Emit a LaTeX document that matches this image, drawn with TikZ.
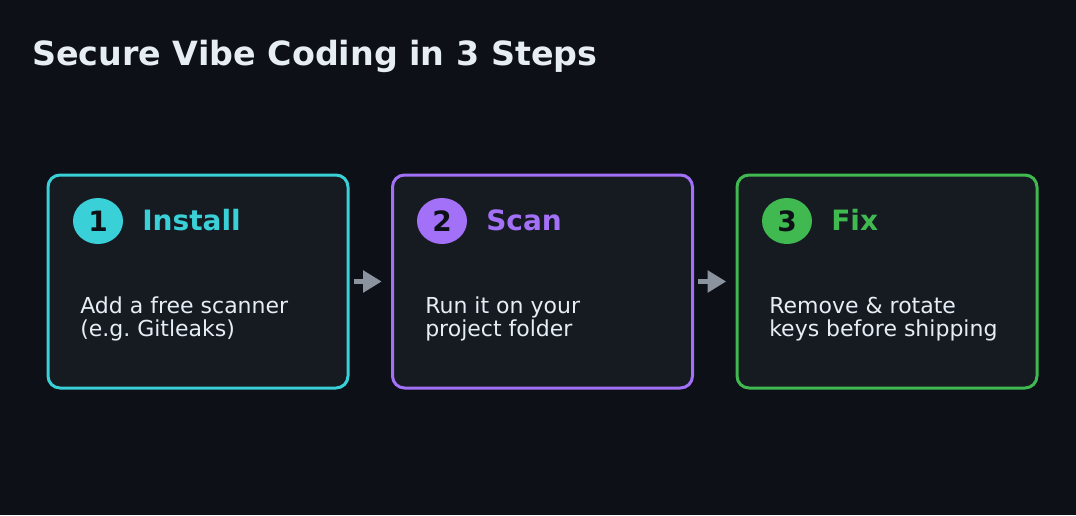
\documentclass[tikz,border=0pt]{standalone}
\usepackage{fontspec}
\setmainfont{DejaVu Sans}
\usetikzlibrary{arrows.meta,shapes.geometric}
\definecolor{bgc}{HTML}{0D1117}
\definecolor{boxfill}{HTML}{161B22}
\definecolor{cyanc}{HTML}{39D0D8}
\definecolor{purplec}{HTML}{A371F7}
\definecolor{greenc}{HTML}{3FB950}
\definecolor{txt}{HTML}{E6EDF3}
\definecolor{arrc}{HTML}{8B949E}
\tikzset{
  stepbox/.style={draw=#1, line width=2.25pt, fill=boxfill, rounded corners=9pt,
    minimum width=225pt, minimum height=159.75pt, inner sep=0pt},
  badge/.style={ellipse, fill=#1, minimum width=37.5pt, minimum height=34.5pt, inner sep=0pt,
    text=bgc, font=\bfseries\fontsize{21}{21}\selectfont},
  steptitle/.style={anchor=west, text=#1, inner sep=0pt, font=\bfseries\fontsize{21}{21}\selectfont},
  body/.style={anchor=north west, align=left, text=txt, inner sep=0pt,
    font=\fontsize{16.5}{17.25}\selectfont},
  arr/.style={draw=arrc, line width=4pt, -{Triangle[length=14pt,width=16pt]},
    shorten <=3pt, shorten >=7pt}
}
\begin{document}
\frenchspacing
\begin{tikzpicture}[x=0.75pt,y=-0.75pt]
\fill[bgc] (0,0) rectangle (1076,515);
\useasboundingbox (0,0) rectangle (1076,515);
\node[anchor=base west, inner sep=0pt, text=txt, font=\bfseries\fontsize{25}{25}\selectfont] (title) at (32,65) {Secure Vibe Coding in 3 Steps};

\node[stepbox=cyanc] (b1) at (198,281.5) {};
\node[stepbox=purplec] (b2) at (542.5,281.5) {};
\node[stepbox=greenc] (b3) at (887,281.5) {};

\node[badge=cyanc] (c1) at (98,221) {1};
\node[badge=purplec] (c2) at (442,221) {2};
\node[badge=greenc] (c3) at (787,221) {3};

\node[steptitle=cyanc] (t1) at (142,220) {Install};
\node[steptitle=purplec] (t2) at (486,220) {Scan};
\node[steptitle=greenc] (t3) at (831,220) {Fix};

\node[body] (d1) at (80,297) {Add a free scanner\\(e.g. Gitleaks)};
\node[body] (d2) at (425,297) {Run it on your\\project folder};
\node[body] (d3) at (769,297) {Remove \& rotate\\keys before shipping};

\draw[arr] (b1.east) -- (b2.west);
\draw[arr] (b2.east) -- (b3.west);
\end{tikzpicture}
\end{document}
